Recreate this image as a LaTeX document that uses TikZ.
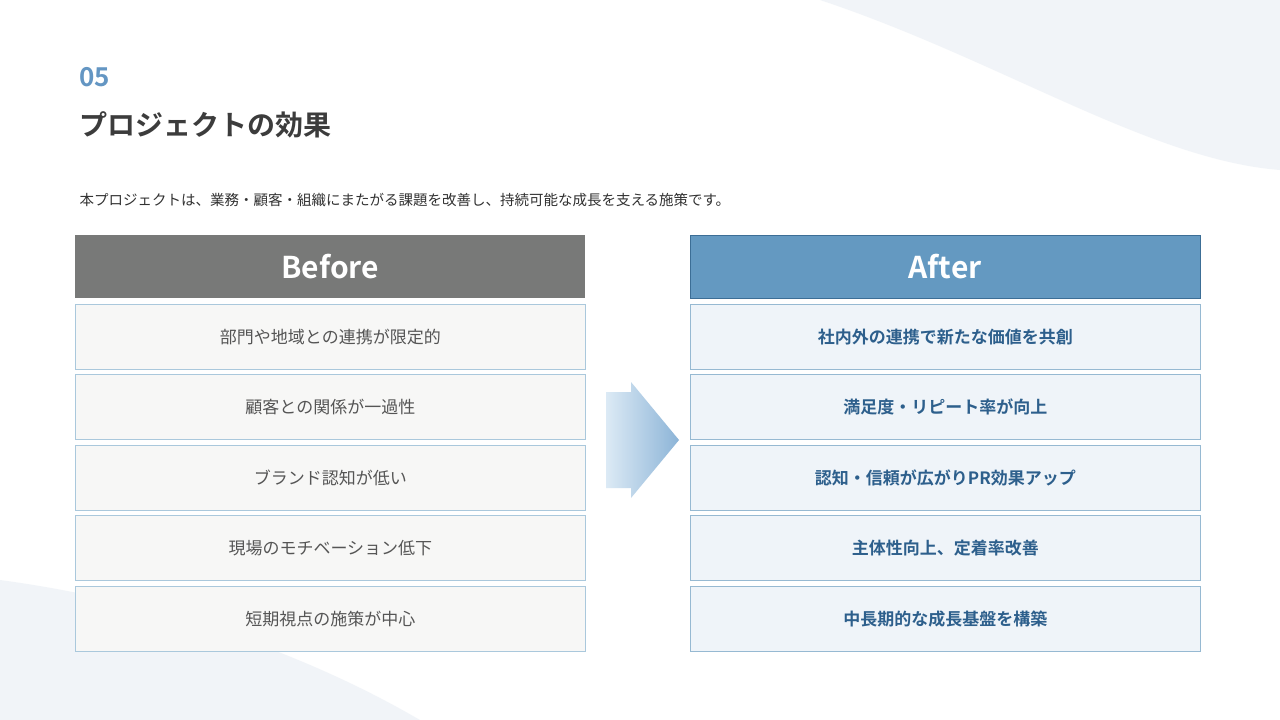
\documentclass[tikz,border=0pt]{standalone}
\usepackage{fontspec}
\setmainfont{Noto Sans CJK JP}
\newfontfamily\jpb{Noto Sans CJK JP Bold}
\definecolor{numc}{RGB}{100,150,195}
\definecolor{titc}{RGB}{60,60,60}
\definecolor{subc}{RGB}{50,50,50}
\definecolor{bhc}{RGB}{120,121,120}
\definecolor{ahc}{RGB}{100,153,193}
\definecolor{ahd}{RGB}{60,110,150}
\definecolor{bbd}{RGB}{170,200,220}
\definecolor{bfl}{RGB}{247,247,246}
\definecolor{btx}{RGB}{85,85,85}
\definecolor{abd}{RGB}{150,185,210}
\definecolor{afl}{RGB}{239,244,249}
\definecolor{atx}{RGB}{45,95,140}
\definecolor{arl}{RGB}{220,234,245}
\definecolor{arr}{RGB}{140,180,215}
\definecolor{bgw}{RGB}{236,240,246}
\begin{document}
\begin{tikzpicture}[x=1pt,y=-1pt,
  bhead/.style={minimum width=510pt,minimum height=63pt,font=\jpb\fontsize{30}{32}\selectfont,text=white,inner sep=0},
  brow/.style={draw=#1,line width=0.8pt,minimum width=510pt,minimum height=65pt,inner sep=0},
]
\useasboundingbox (0,0) rectangle (1280,720);
\fill[white] (0,0) rectangle (1280,720);
\fill[bgw,opacity=0.7] (820,0) .. controls (1000,60) and (1150,160) .. (1280,170) -- (1280,0) -- cycle;
\fill[bgw,opacity=0.7] (0,580) .. controls (150,600) and (300,650) .. (420,720) -- (0,720) -- cycle;
\node[anchor=west,text=numc,font=\jpb\fontsize{26}{28}\selectfont] (num) at (76,77) {05};
\node[anchor=west,text=titc,font=\jpb\fontsize{28}{30}\selectfont] (title) at (76,125) {プロジェクトの効果};
\node[anchor=west,text=subc,font=\fontsize{14.5}{16}\selectfont] (sub) at (76,200) {本プロジェクトは、業務・顧客・組織にまたがる課題を改善し、持続可能な成長を支える施策です。};
\node[bhead,fill=bhc,anchor=north west] (bh) at (75,235) {Before};
\node[bhead,fill=ahc,draw=ahd,anchor=north west] (ah) at (690,235) {After};
\foreach \i/\y/\bt/\at in {1/304/部門や地域との連携が限定的/社内外の連携で新たな価値を共創,
 2/374/顧客との関係が一過性/満足度・リピート率が向上,
 3/445/ブランド認知が低い/認知・信頼が広がりPR効果アップ,
 4/515/現場のモチベーション低下/主体性向上、定着率改善,
 5/586/短期視点の施策が中心/中長期的な成長基盤を構築}{
 \node[brow=bbd,fill=bfl,anchor=north west,text=btx,font=\fontsize{17}{19}\selectfont] (b\i) at (75,\y) {\bt};
 \node[brow=abd,fill=afl,anchor=north west,text=atx,font=\jpb\fontsize{17}{19}\selectfont] (a\i) at (690,\y) {\at};
}
\shade[left color=arl,right color=arr] (606,392) -- (631,392) -- (631,382) -- (679,440) -- (631,498) -- (631,488) -- (606,488) -- cycle;
\end{tikzpicture}
\end{document}
